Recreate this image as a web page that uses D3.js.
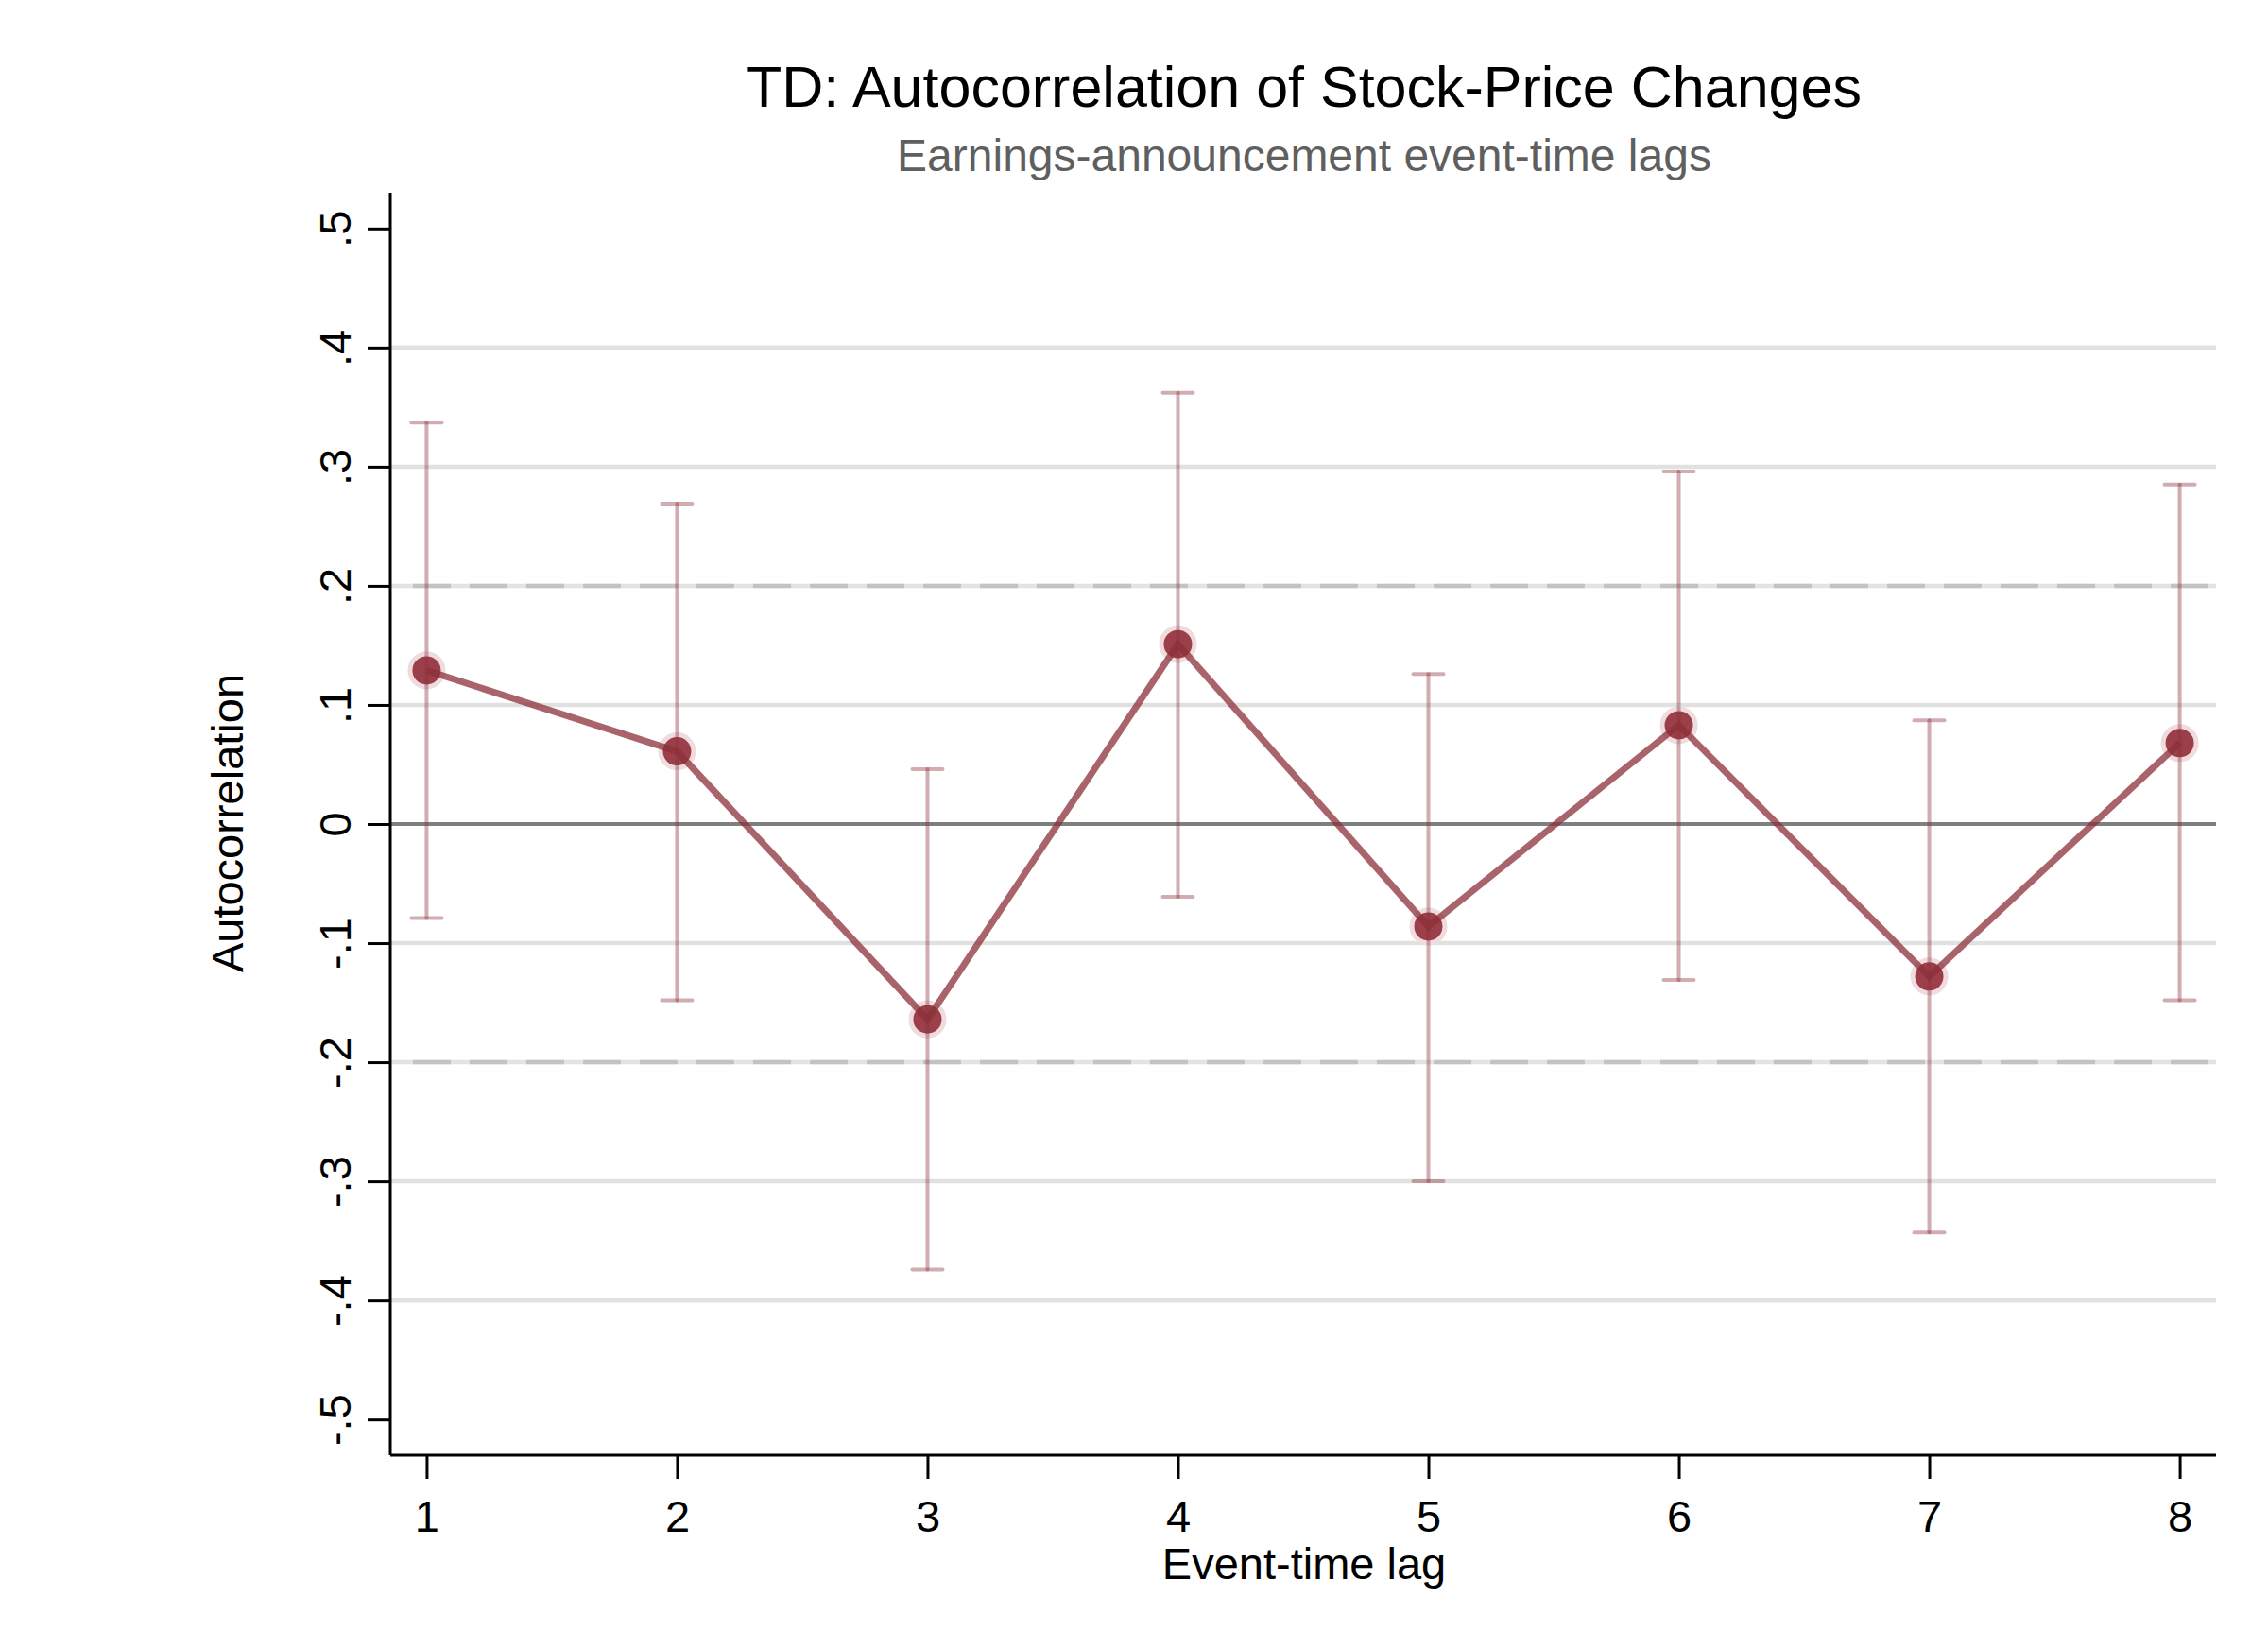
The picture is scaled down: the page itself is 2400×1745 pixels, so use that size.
<!DOCTYPE html>
<html>
<head>
<meta charset="utf-8">
<script src="https://cdn.jsdelivr.net/npm/d3@7"></script>
<style>
  html, body { margin: 0; padding: 0; background: #fff; }
  svg { display: block; font-family: "Liberation Sans", Arial, sans-serif; }
</style>
</head>
<body>
<svg id="chart" width="2400" height="1745"></svg>
<script>
/* Autocorrelation by event-time lag, with confidence bands */

const LAGS = [1, 2, 3, 4, 5, 6, 7, 8];
const ACF = [0.129, 0.061, -0.164, 0.151, -0.086, 0.083, -0.128, 0.068];
const CI_LOW = [-0.079, -0.148, -0.374, -0.061, -0.300, -0.131, -0.343, -0.148];
const CI_HIGH = [0.337, 0.269, 0.046, 0.362, 0.126, 0.296, 0.087, 0.285];
const Y_TICKS = [-0.5, -0.4, -0.3, -0.2, -0.1, 0, 0.1, 0.2, 0.3, 0.4, 0.5];
const GRID_SOLID = [-0.4, -0.3, -0.1, 0.1, 0.3, 0.4];
const GRID_DASHED = [-0.2, 0.2];

(function() {
  const svg = d3.select("#chart");
  const left = 413, right = 2345, top = 204, bottom = 1540;
  const red = "#8b2f39";

  const x = d3.scaleLinear().domain([0.855, 8.145]).range([left, right]);
  const y = d3.scaleLinear().domain([-0.53, 0.53]).range([bottom, top]);

  // Stata-style labels: ".1", "-.2", "0" with a plain hyphen
  const fmt = v => (v === 0 ? "0" : (v < 0 ? "-" : "") + d3.format(".1f")(Math.abs(v)).replace("0.", "."));

  // titles
  svg.append("text")
    .attr("x", 1380).attr("y", 113)
    .attr("text-anchor", "middle")
    .style("font-size", "61px")
    .text("TD: Autocorrelation of Stock-Price Changes");
  svg.append("text")
    .attr("x", 1380).attr("y", 181)
    .attr("text-anchor", "middle")
    .style("font-size", "48px")
    .style("fill", "#5f5f5f")
    .text("Earnings-announcement event-time lags");

  // grid lines
  const grid = svg.append("g");
  grid.selectAll(".solid")
    .data(GRID_SOLID)
    .enter().append("line")
    .attr("x1", left).attr("x2", right)
    .attr("y1", d => y(d)).attr("y2", d => y(d))
    .attr("stroke", "#e1e1e1").attr("stroke-width", 4.5);
  grid.selectAll(".dbase")
    .data(GRID_DASHED)
    .enter().append("line")
    .attr("x1", left).attr("x2", right)
    .attr("y1", d => y(d)).attr("y2", d => y(d))
    .attr("stroke", "#e3e3e3").attr("stroke-width", 4.5);
  grid.selectAll(".dash")
    .data(GRID_DASHED)
    .enter().append("line")
    .attr("x1", left + 24).attr("x2", right)
    .attr("y1", d => y(d)).attr("y2", d => y(d))
    .attr("stroke", "#c3c3c3").attr("stroke-width", 4.5)
    .attr("stroke-dasharray", "40 20");
  grid.append("line")
    .attr("x1", left).attr("x2", right)
    .attr("y1", y(0)).attr("y2", y(0))
    .attr("stroke", "#7f7f7f").attr("stroke-width", 4);

  // axes
  const yAxis = d3.axisLeft(y).tickValues(Y_TICKS).tickFormat(fmt)
    .tickSize(24).tickPadding(8);
  const yg = svg.append("g")
    .attr("transform", `translate(${left},0)`)
    .call(yAxis);
  yg.select(".domain").attr("d", `M0,${top}V${bottom}`)
    .attr("stroke", "#000").attr("stroke-width", 3);
  yg.selectAll(".tick line").attr("stroke", "#000").attr("stroke-width", 3);
  yg.selectAll(".tick text")
    .attr("x", 0).attr("y", 0).attr("dy", null)
    .attr("text-anchor", "middle")
    .attr("transform", "translate(-42,0) rotate(-90)")
    .style("font-size", "47px").style("fill", "#000")
    .style("font-family", "\"Liberation Sans\", Arial, sans-serif");

  const xAxis = d3.axisBottom(x).tickValues(LAGS).tickFormat(d3.format("d"))
    .tickSize(25).tickPadding(10);
  const xg = svg.append("g")
    .attr("transform", `translate(0,${bottom})`)
    .call(xAxis);
  xg.select(".domain").attr("d", `M${left},0H${right}`)
    .attr("stroke", "#000").attr("stroke-width", 3);
  xg.selectAll(".tick line").attr("stroke", "#000").attr("stroke-width", 3);
  xg.selectAll(".tick text")
    .attr("y", 0).attr("dy", null)
    .attr("transform", "translate(0,81)")
    .style("font-size", "47px").style("fill", "#000")
    .style("font-family", "\"Liberation Sans\", Arial, sans-serif");

  // axis titles
  svg.append("text")
    .attr("x", 1380).attr("y", 1671)
    .attr("text-anchor", "middle")
    .style("font-size", "47px")
    .text("Event-time lag");
  svg.append("text")
    .attr("transform", "translate(257,871) rotate(-90)")
    .attr("text-anchor", "middle")
    .style("font-size", "47px")
    .text("Autocorrelation");

  const rows = LAGS.map((d, i) => ({ lag: d, v: ACF[i], lo: CI_LOW[i], hi: CI_HIGH[i] }));

  // markers (drawn first, the line and bars sit over them)
  svg.append("g").selectAll("circle")
    .data(rows).enter().append("circle")
    .attr("cx", d => x(d.lag)).attr("cy", d => y(d.v))
    .attr("r", 17.5)
    .attr("fill", "#9b404a")
    .attr("stroke", "#f0dcde").attr("stroke-width", 5);

  // connecting line
  svg.append("path")
    .datum(rows)
    .attr("fill", "none")
    .attr("stroke", red).attr("stroke-opacity", 0.75)
    .attr("stroke-width", 7).attr("stroke-linejoin", "miter")
    .attr("d", d3.line().x(d => x(d.lag)).y(d => y(d.v)));

  // error bars
  const bars = svg.append("g")
    .attr("stroke", red).attr("stroke-opacity", 0.4)
    .attr("stroke-width", 4).attr("stroke-linecap", "round");
  bars.selectAll(".v")
    .data(rows).enter().append("line")
    .attr("x1", d => x(d.lag)).attr("x2", d => x(d.lag))
    .attr("y1", d => y(d.lo)).attr("y2", d => y(d.hi));
  bars.selectAll(".cap")
    .data(rows.flatMap(d => [d.lo, d.hi].map(v => ({ lag: d.lag, v }))))
    .enter().append("line")
    .attr("x1", d => x(d.lag) - 16).attr("x2", d => x(d.lag) + 16)
    .attr("y1", d => y(d.v)).attr("y2", d => y(d.v));
})();
</script>
</body>
</html>
